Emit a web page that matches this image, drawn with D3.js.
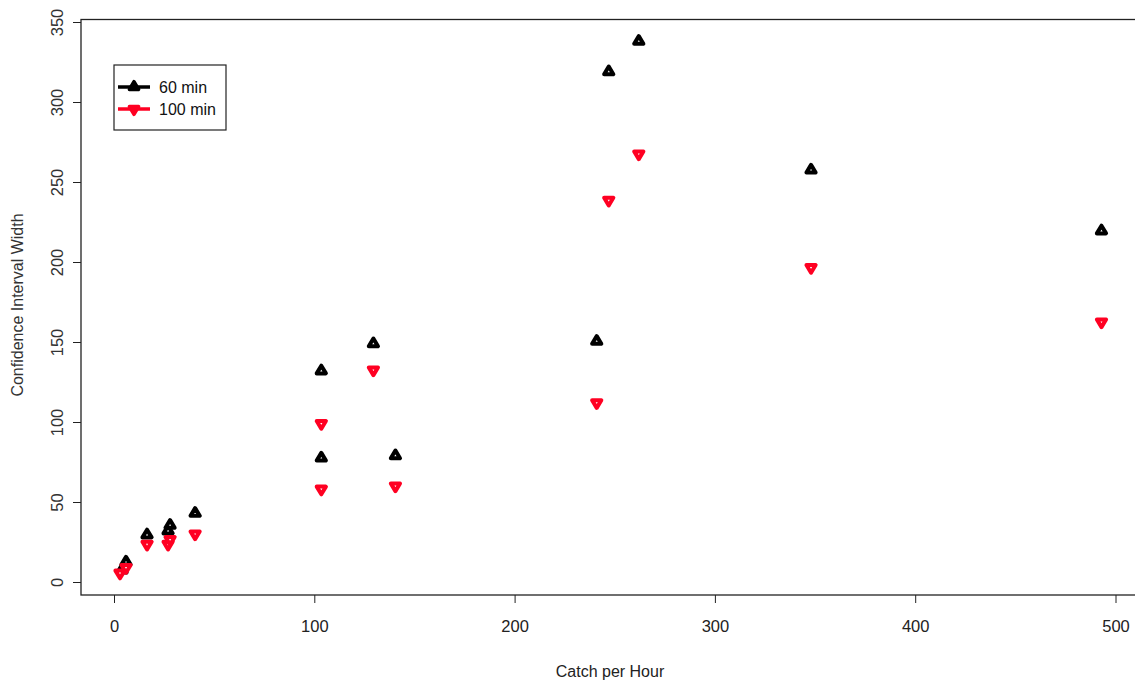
<!DOCTYPE html>
<html><head><meta charset="utf-8">
<script src="https://cdn.jsdelivr.net/npm/d3@7"></script>
<style>body{margin:0;background:#fff}svg{display:block}</style>
</head><body>
<script>
const catchX60 = [4, 6, 16.5, 27, 28, 40.5, 103.5, 103.5, 129.5, 140.5, 241, 247, 262, 348, 493];
const width60  = [8, 13, 30, 32.5, 36, 43.5, 132.5, 78, 149.5, 79.5, 151, 319.5, 338.5, 258, 220];
const catchX100 = [3, 6, 16.5, 27, 28, 40.5, 103.5, 103.5, 129.5, 140.5, 241, 247, 262, 348, 493];
const width100  = [5, 8.5, 23, 23, 26, 29.5, 98.5, 57.5, 132, 59.5, 111.5, 238, 267, 196, 162];
const xTicks = [0, 100, 200, 300, 400, 500];
const yTicks = [0, 50, 100, 150, 200, 250, 300, 350];
const seriesNames = ["60 min", "100 min"];
const seriesColors = ["#000000", "#ff0022"];

const W = 1135, H = 683;
const svg = d3.select("body").append("svg").attr("width", W).attr("height", H);
const font = "'Liberation Sans',Arial,sans-serif";

const x = d3.scaleLinear().domain([0, 500]).range([114, 1115.5]);
const y = d3.scaleLinear().domain([0, 350]).range([582, 22]);

// plot box (right edge lies beyond the window)
svg.append("rect").attr("x", 81).attr("y", 19.5).attr("width", 1080).attr("height", 575.5)
  .attr("fill", "none").attr("stroke", "#222").attr("stroke-width", 1.3);

// x axis
const xa = svg.append("g").attr("transform", "translate(0,595)")
  .call(d3.axisBottom(x).tickValues(xTicks).tickSize(8).tickSizeOuter(0).tickFormat(d3.format("d")));
xa.select(".domain").remove();
xa.selectAll("line").attr("stroke", "#222");
xa.selectAll("text").attr("font-family", font).attr("font-size", 16.5).attr("fill", "#222").attr("dy", "1.55em");

// y axis
const ya = svg.append("g").attr("transform", "translate(81,0)")
  .call(d3.axisLeft(y).tickValues(yTicks).tickSize(8).tickSizeOuter(0).tickFormat(d3.format("d")));
ya.select(".domain").remove();
ya.selectAll("line").attr("stroke", "#222");
ya.selectAll("text").attr("font-family", font).attr("font-size", 16.5).attr("fill", "#333")
  .attr("x", 0).attr("dy", 0).attr("text-anchor", "middle")
  .attr("transform", "translate(-18,0) rotate(-90)");

// axis titles
svg.append("text").attr("x", 610).attr("y", 677).attr("text-anchor", "middle")
  .attr("font-family", font).attr("font-size", 16).attr("fill", "#222").text("Catch per Hour");
svg.append("text").attr("transform", "translate(23,305) rotate(-90)").attr("text-anchor", "middle")
  .attr("font-family", font).attr("font-size", 16).attr("fill", "#333").text("Confidence Interval Width");

const triUp = "M0,-4.3L4.6,3.4L-4.6,3.4Z";
const triDown = "M0,4.3L4.6,-3.4L-4.6,-3.4Z";

function drawSeries(xs, ys, color, path) {
  svg.append("g").selectAll("path").data(xs.map((d, i) => [d, ys[i]])).join("path")
    .attr("d", path)
    .attr("transform", d => `translate(${x(d[0])},${y(d[1])})`)
    .attr("fill", "#fff").attr("stroke", color).attr("stroke-width", 4).attr("stroke-linejoin", "round");
}
drawSeries(catchX60, width60, seriesColors[0], triUp);
drawSeries(catchX100, width100, seriesColors[1], triDown);

// legend
const lg = svg.append("g");
lg.append("rect").attr("x", 114).attr("y", 65).attr("width", 112).attr("height", 65)
  .attr("fill", "#fff").attr("stroke", "#222").attr("stroke-width", 1.2);
seriesNames.forEach((name, i) => {
  const yy = 87 + i * 22;
  lg.append("line").attr("x1", 118).attr("x2", 150).attr("y1", yy).attr("y2", yy)
    .attr("stroke", seriesColors[i]).attr("stroke-width", 3.5);
  lg.append("path").attr("d", i === 0 ? triUp : triDown)
    .attr("transform", `translate(134,${yy + (i === 0 ? -1 : 1)})`)
    .attr("fill", seriesColors[i]).attr("stroke", seriesColors[i]).attr("stroke-width", 3.5)
    .attr("stroke-linejoin", "round");
  lg.append("text").attr("x", 159).attr("y", yy + 5.5).attr("font-family", font).attr("font-size", 16)
    .attr("fill", "#111").text(name);
});
</script>
</body></html>
